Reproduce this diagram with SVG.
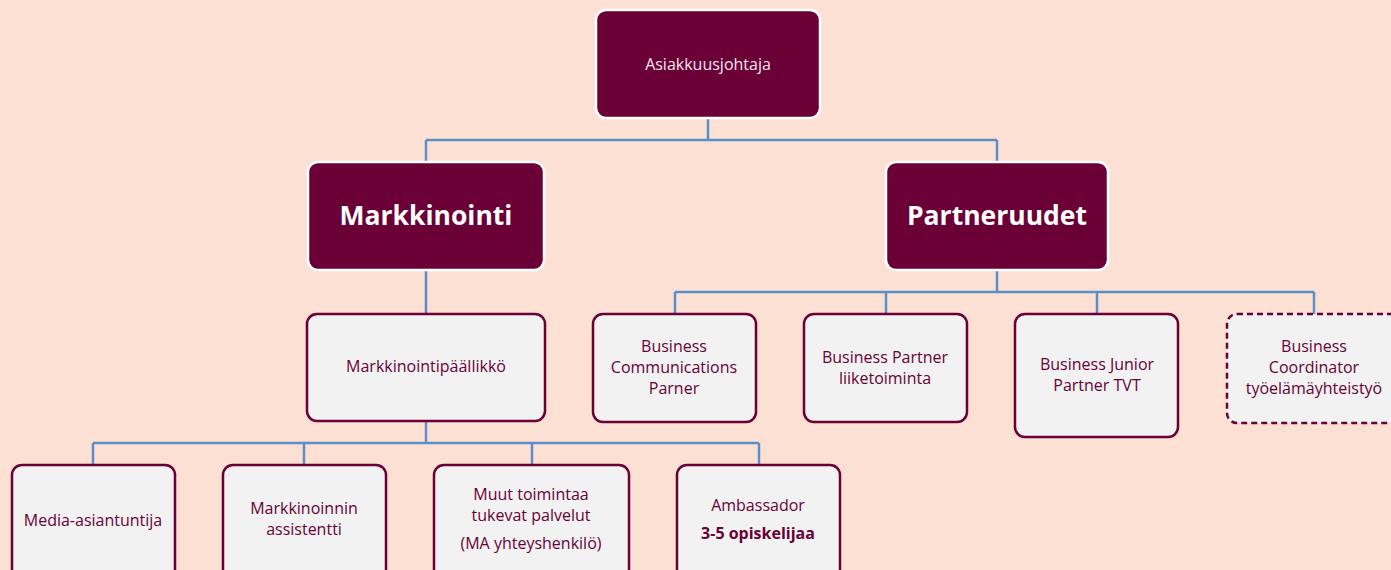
<svg xmlns="http://www.w3.org/2000/svg" width="1391" height="570" viewBox="0 0 1391 570">
<style>
.dark{fill:#6a0036;stroke:#ffffff;stroke-width:2.5}
.light{fill:#f2f2f2;stroke:#6a0036;stroke-width:2.5}
.dash{stroke-dasharray:6 4}
.t{font-family:"Open Sans","Noto Sans",sans-serif;font-size:16px;fill:#6a0036;text-anchor:middle}
.tw{font-family:"Open Sans","Noto Sans",sans-serif;font-size:16px;fill:#f5e6ee;text-anchor:middle}
.tb{font-family:"Open Sans","Noto Sans",sans-serif;font-size:26.5px;font-weight:bold;fill:#ffffff;text-anchor:middle}
.b{font-weight:bold}
.conn{fill:none;stroke:#5b8fc9;stroke-width:2.5}
</style>
<rect width="1391" height="570" fill="#fce0d3"/>
<g id="connectors" class="conn">
<path d="M708 118V140M426 140H997M426 140V162M997 140V162"/>
<path d="M426 270V314"/>
<path d="M997 270V292M675 292H1314M675 292V314M886 292V314M1097 292V314M1314 292V314"/>
<path d="M426 421V443M93 443H759M93 443V465M304 443V465M532 443V465M759 443V465"/>
</g>
<g id="asiakkuusjohtaja"><rect class="dark" x="596" y="10" width="224" height="108" rx="10"/><text class="tw" x="708" y="70">Asiakkuusjohtaja</text></g>
<g id="markkinointi"><rect class="dark" x="308" y="162" width="236" height="108" rx="10"/><text class="tb" x="426" y="225">Markkinointi</text></g>
<g id="partneruudet"><rect class="dark" x="886" y="162" width="222" height="108" rx="10"/><text class="tb" x="997" y="225">Partneruudet</text></g>
<g id="markkinointipaallikko"><rect class="light" x="307" y="314" width="238" height="107" rx="10"/><text class="t" x="426" y="372">Markkinointipäällikkö</text></g>
<g id="bcp"><rect class="light" x="593" y="314" width="163" height="108" rx="10"/><text class="t" x="674" y="352">Business</text><text class="t" x="674" y="373">Communications</text><text class="t" x="674" y="394">Parner</text></g>
<g id="bpl"><rect class="light" x="804" y="314" width="163" height="108" rx="10"/><text class="t" x="885" y="363">Business Partner</text><text class="t" x="885" y="384">liiketoiminta</text></g>
<g id="bjp"><rect class="light" x="1015" y="314" width="163" height="123" rx="10"/><text class="t" x="1097" y="370">Business Junior</text><text class="t" x="1097" y="391">Partner TVT</text></g>
<g id="bc"><rect class="light dash" x="1227" y="314" width="180" height="109" rx="10"/><text class="t" x="1314" y="352">Business</text><text class="t" x="1314" y="373">Coordinator</text><text class="t" x="1314" y="394">työelämäyhteistyö</text></g>
<g id="media"><rect class="light" x="12" y="465" width="163" height="120" rx="10"/><text class="t" x="93" y="526">Media-asiantuntija</text></g>
<g id="assistentti"><rect class="light" x="223" y="465" width="163" height="120" rx="10"/><text class="t" x="304" y="514">Markkinoinnin</text><text class="t" x="304" y="535">assistentti</text></g>
<g id="muut"><rect class="light" x="434" y="465" width="195" height="120" rx="10"/><text class="t" x="531" y="500">Muut toimintaa</text><text class="t" x="531" y="521">tukevat palvelut</text><text class="t" x="531" y="549">(MA yhteyshenkilö)</text></g>
<g id="ambassador"><rect class="light" x="677" y="465" width="163" height="120" rx="10"/><text class="t" x="758" y="511">Ambassador</text><text class="t b" x="758" y="539">3-5 opiskelijaa</text></g>
</svg>
